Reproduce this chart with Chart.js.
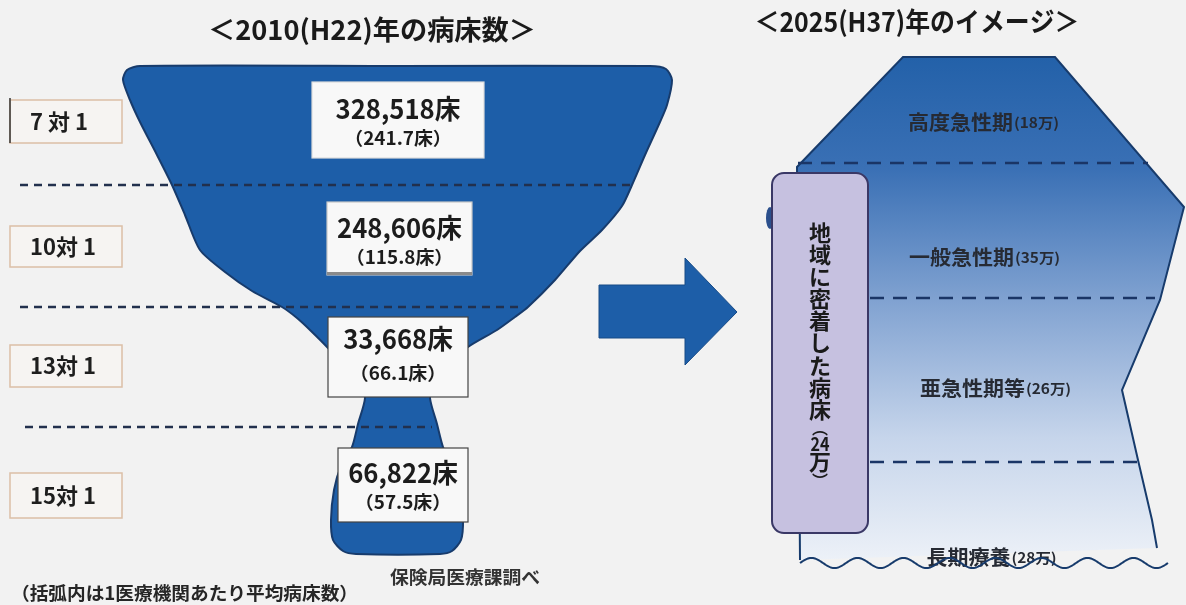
<!DOCTYPE html>
<html>
<head>
<meta charset="utf-8">
<script src="https://cdn.jsdelivr.net/npm/chart.js@4.4.1/dist/chart.umd.min.js"></script>
<style>
  html, body { margin: 0; padding: 0; background: #f2f2f2; }
  #wrap { width: 1186px; height: 605px; position: relative; }
</style>
</head>
<body>
<div id="wrap"><canvas id="chart"></canvas></div>
<script>
// --- data ---
const wards = ['7 対 1', '10対 1', '13対 1', '15対 1'];
const beds2010 = [328518, 248606, 33668, 66822];
const avgBeds2010 = [241.7, 115.8, 66.1, 57.5];   // per hospital
const phases2025 = ['高度急性期', '一般急性期', '亜急性期等', '長期療養'];
const beds2025 = [18, 35, 26, 28];                 // 万床
const communityBeds2025 = 24;                      // 万床
const titles = ['＜2010(H22)年の病床数＞', '＜2025(H37)年のイメージ＞'];
const notes = ['（括弧内は1医療機関あたり平均病床数）', '保険局医療課調べ'];

// --- shape outlines (picture units, y downwards) ---
const vase2010 = [
  [400, 66], [650, 66], [666, 69], [672, 80], [667, 105], [660, 122], [645, 155], [632, 185],
  [622, 206], [602, 230], [580, 251], [555, 280], [528, 307], [515, 317], [497, 330], [468, 347],
  [446, 368], [434, 388], [430, 398], [437, 424], [443, 447], [452, 466], [460, 490], [463, 520],
  [461, 540], [452, 551], [440, 554], [356, 554], [343, 551], [333, 540], [331, 520], [334, 490],
  [341, 466], [352, 447], [358, 424], [365, 398], [360, 388], [346, 368], [328, 348], [310, 330],
  [297, 318], [282, 307], [252, 291], [225, 272], [200, 250], [185, 215], [172, 185], [157, 155],
  [140, 122], [130, 100], [123, 80], [127, 70], [140, 66], [400, 66]
];
const arrow = [[599, 285], [685, 285], [685, 258], [737, 312], [685, 365], [685, 338], [599, 338], [599, 285]];
const shape2025 = [
  [800, 560], [797, 167], [903, 57], [1055, 57], [1184, 207], [1160, 300],
  [1122, 390], [1138, 460], [1152, 520], [1157, 548]
];
const dividers2010 = [[20, 632, 185], [20, 522, 307], [25, 432, 427]];
const dividers2025 = [[798, 1148, 163], [870, 1155, 298], [870, 1137, 462]];

// --- annotation layout ---
const labelBoxes = [[100, 143], [226, 267], [345, 387], [473, 518]];
const valueBoxes = [
  { x0: 312, x1: 484, y0: 82, y1: 158, t1: 109, t2: 138, edge: '#dcdcdc' },
  { x0: 327, x1: 472, y0: 202, y1: 275, t1: 228, t2: 257, edge: '#c8c8c8' },
  { x0: 328, x1: 468, y0: 317, y1: 397, t1: 339, t2: 373, edge: '#444' },
  { x0: 338, x1: 468, y0: 448, y1: 522, t1: 473, t2: 502, edge: '#444' }
];
const phaseLabels = [[983, 122], [984, 257], [995, 388], [991, 557]];

const JP = '"Noto Sans CJK JP", "Noto Sans", sans-serif';
const BLUE = '#1d5ea8';
const NAVY = '#173b6c';

const pts = arr => arr.map(([x, y]) => ({ x, y }));

function put(ctx, str, x, y, font, color, opts = {}) {
  ctx.save();
  ctx.font = font;
  ctx.fillStyle = color;
  ctx.textBaseline = 'middle';
  ctx.textAlign = opts.align || 'center';
  const w = ctx.measureText(str).width;
  const sx = opts.width ? opts.width / w : (opts.sx || 1);
  ctx.translate(x, y);
  ctx.scale(sx, 1);
  ctx.fillText(str, 0, 0);
  ctx.restore();
  return w * sx;
}

function roundRect(ctx, x0, y0, x1, y1, r) {
  ctx.beginPath();
  ctx.moveTo(x0 + r, y0);
  ctx.arcTo(x1, y0, x1, y1, r);
  ctx.arcTo(x1, y1, x0, y1, r);
  ctx.arcTo(x0, y1, x0, y0, r);
  ctx.arcTo(x0, y0, x1, y0, r);
  ctx.closePath();
}

const overlay = {
  id: 'overlay',
  afterDatasetsDraw(chart) {
    const { ctx, scales: { x, y } } = chart;
    const X = v => x.getPixelForValue(v);
    const Y = v => y.getPixelForValue(v);

    // titles
    put(ctx, titles[0], X(372), Y(30), 'bold 27px ' + JP, '#1a1a1a', { width: 328 });
    put(ctx, titles[1], X(917), Y(22), 'bold 27px ' + JP, '#1a1a1a', { width: 325 });

    // ward label boxes
    wards.forEach((w, i) => {
      const [a, b] = labelBoxes[i];
      ctx.save();
      ctx.fillStyle = '#f6f4f2';
      ctx.strokeStyle = '#dbbfa6';
      ctx.lineWidth = 1.5;
      ctx.fillRect(X(10), Y(a), X(122) - X(10), Y(b) - Y(a));
      ctx.strokeRect(X(10), Y(a), X(122) - X(10), Y(b) - Y(a));
      if (i === 0) {
        ctx.strokeStyle = '#333';
        ctx.beginPath();
        ctx.moveTo(X(10), Y(a - 2));
        ctx.lineTo(X(10), Y(b));
        ctx.stroke();
      }
      ctx.restore();
      put(ctx, w, X(30), Y((a + b) / 2), 'bold 22px ' + JP, '#1e1e1e', { align: 'left' });
    });

    // value boxes
    valueBoxes.forEach((bx, i) => {
      ctx.save();
      ctx.fillStyle = '#f8f8f8';
      ctx.fillRect(X(bx.x0), Y(bx.y0), X(bx.x1) - X(bx.x0), Y(bx.y1) - Y(bx.y0));
      ctx.strokeStyle = bx.edge;
      ctx.lineWidth = 1.2;
      ctx.strokeRect(X(bx.x0), Y(bx.y0), X(bx.x1) - X(bx.x0), Y(bx.y1) - Y(bx.y0));
      if (i === 1) {
        ctx.fillStyle = '#8a8a8a';
        ctx.fillRect(X(bx.x0), Y(bx.y1 - 3), X(bx.x1) - X(bx.x0), 3);
      }
      ctx.restore();
      const cx = (bx.x0 + bx.x1) / 2;
      put(ctx, beds2010[i].toLocaleString('en-US') + '床', X(cx), Y(bx.t1), 'bold 27px ' + JP, '#1c1c1c', { sx: 0.95 });
      put(ctx, '（' + avgBeds2010[i].toFixed(1) + '床）', X(cx), Y(bx.t2), 'bold 18px ' + JP, '#1c1c1c', { sx: 1.05 });
    });

    // notes
    put(ctx, notes[0], X(11), Y(593), 'bold 18px ' + JP, '#262626', { align: 'left', width: 347 });
    put(ctx, notes[1], X(465), Y(577), 'bold 18px ' + JP, '#333', { width: 150 });

    // phase labels (2025)
    phases2025.forEach((p, i) => {
      const [cx, cy] = phaseLabels[i];
      const sub = '(' + beds2025[i] + '万)';
      ctx.save();
      ctx.font = 'bold 20px ' + JP;
      const w1 = ctx.measureText(p).width * 1.05;
      ctx.font = 'bold 14px ' + JP;
      const w2 = ctx.measureText(sub).width * 1.1;
      ctx.restore();
      const left = X(cx) - (w1 + w2) / 2;
      put(ctx, p, left, Y(cy), 'bold 20px ' + JP, '#262a33', { align: 'left', sx: 1.05 });
      put(ctx, sub, left + w1 + 1, Y(cy + 1), 'bold 14px ' + JP, '#262a33', { align: 'left', sx: 1.1 });
    });

    // community-based beds (purple box)
    ctx.save();
    ctx.fillStyle = '#2b4f8c';
    ctx.beginPath();
    ctx.ellipse(X(770), Y(218), 4, 11, 0, 0, Math.PI * 2);
    ctx.fill();
    roundRect(ctx, X(772), Y(173), X(868), Y(533), 12);
    ctx.fillStyle = '#c6c1e0';
    ctx.fill();
    ctx.strokeStyle = '#3a3866';
    ctx.lineWidth = 2;
    ctx.stroke();
    ctx.restore();
    const vchars = [...'地域に密着した病床', '︵', String(communityBeds2025), '万', '︶'];
    const vy = [233, 255, 277, 299, 321, 343, 366, 388, 410, 428, 444, 462, 481];
    vchars.forEach((ch, i) => {
      const small = ch === '︵' || ch === '︶';
      put(ctx, ch, X(820), Y(vy[i]), 'bold ' + (small ? 16 : ch.length > 1 ? 19 : 22) + 'px ' + JP, '#1a1a1a',
        ch.length > 1 ? { sx: 0.85 } : {});
    });

    // wavy bottom line
    ctx.save();
    ctx.strokeStyle = NAVY;
    ctx.lineWidth = 2;
    ctx.beginPath();
    const x0 = X(800), x1 = X(1168), yc = Y(563), L = 46;
    for (let px = x0; px <= x1; px += 1) {
      const py = yc + 5 * Math.sin((px - x0) / L * Math.PI * 2 + Math.PI);
      if (px === x0) ctx.moveTo(px, py); else ctx.lineTo(px, py);
    }
    ctx.stroke();
    ctx.restore();
  }
};

const dashed = (seg, color, dash) => ({
  data: pts([[seg[0], seg[2]], [seg[1], seg[2]]]),
  borderColor: color,
  borderWidth: 2.5,
  borderDash: dash,
  pointRadius: 0,
  fill: false
});

const ctx = document.getElementById('chart').getContext('2d');
new Chart(ctx, {
  type: 'line',
  data: {
    datasets: [
      ...dividers2010.map(s => dashed(s, '#22304d', [8, 6])),
      ...dividers2025.map(s => dashed(s, '#1a3566', [14, 9])),
      {
        data: pts(arrow),
        borderColor: '#174a86',
        borderWidth: 1,
        backgroundColor: BLUE,
        fill: 'shape',
        pointRadius: 0,
        tension: 0
      },
      {
        data: pts(vase2010),
        borderColor: NAVY,
        borderWidth: 2,
        backgroundColor: BLUE,
        fill: 'shape',
        pointRadius: 0,
        tension: 0.25
      },
      {
        data: pts(shape2025),
        borderColor: NAVY,
        borderWidth: 2,
        backgroundColor: c => {
          const { chart } = c;
          if (!chart.chartArea) return '#7f9fcf';
          const g = chart.ctx.createLinearGradient(0, chart.scales.y.getPixelForValue(57), 0, chart.scales.y.getPixelForValue(565));
          g.addColorStop(0, '#2361a9');
          g.addColorStop(0.22, '#3a70b5');
          g.addColorStop(0.5, '#86a6d3');
          g.addColorStop(0.75, '#c6d5eb');
          g.addColorStop(1, '#eef2f8');
          return g;
        },
        fill: 'shape',
        pointRadius: 0,
        tension: 0
      }
    ]
  },
  options: {
    responsive: true,
    maintainAspectRatio: false,
    animation: false,
    layout: { padding: 0 },
    scales: {
      x: { type: 'linear', min: 0, max: 1186, display: false },
      y: { type: 'linear', min: 0, max: 605, reverse: true, display: false }
    },
    plugins: {
      legend: { display: false },
      tooltip: { enabled: false }
    }
  },
  plugins: [overlay]
});
</script>
</body>
</html>
